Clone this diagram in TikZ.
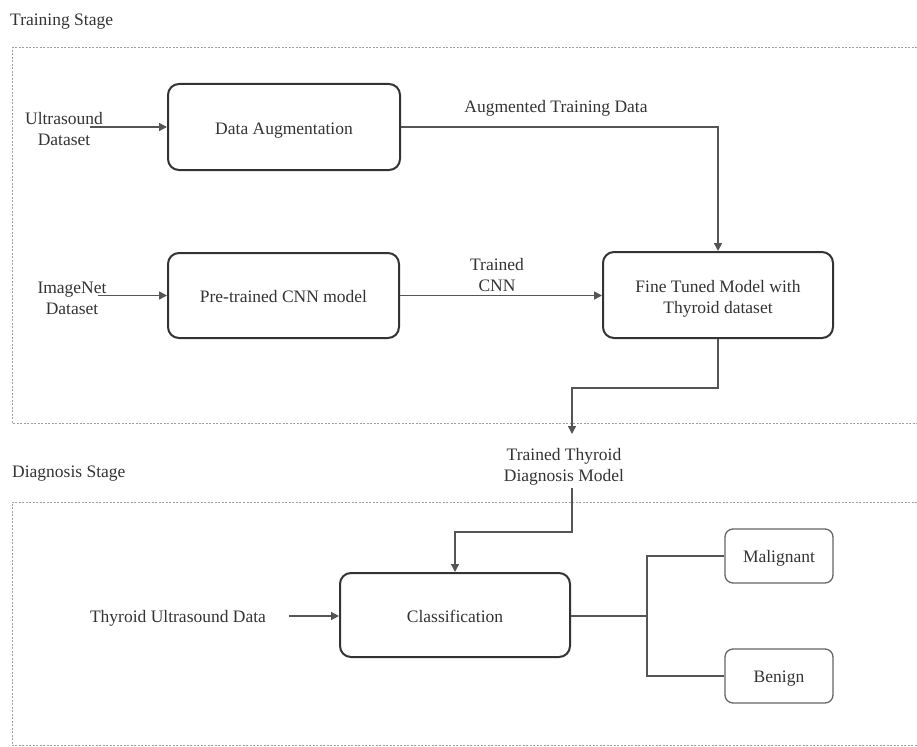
\documentclass[tikz,border=0pt]{standalone}
\usepackage{fontspec}
\setmainfont{Liberation Serif}
\usetikzlibrary{arrows.meta}
\definecolor{txt}{HTML}{333333}
\definecolor{ln}{HTML}{555555}
\definecolor{dsh}{HTML}{A0A0A0}
\newcommand\boxtxt[2][-3bp]{\raisebox{#1}[\height][\depth]{\begin{tabular}{@{}c@{}}#2\end{tabular}}}
\begin{document}
\begin{tikzpicture}[x=1bp,y=-1bp,
  font=\fontsize{17.5bp}{21bp}\selectfont, text=txt,
  mainbox/.style={draw=txt, line width=2bp, rounded corners=11bp, inner sep=0pt},
  smallbox/.style={draw=ln!90, line width=1.3bp, rounded corners=8bp, inner sep=0pt, minimum width=108bp, minimum height=54bp},
  lbl/.style={align=center, inner sep=0pt},
  conn/.style={draw=ln, line width=1.5bp},
  arr/.style={conn, -{Triangle[length=8bp,width=8bp]}},
  stage/.style={draw=dsh, line width=1bp, dash pattern=on 2bp off 1.5bp}
]
\useasboundingbox (0,0) rectangle (917,747);
% stage frames
\draw[stage] (917,48) -- (12,48) -- (12,423) -- (917,423);
\draw[stage] (917,502) -- (12,502) -- (12,745.5) -- (917,745.5);
\node[lbl, anchor=west] (tstage) at (10,22) {Training Stage};
\node[lbl, anchor=west] (dstage) at (12,474) {Diagnosis Stage};

% nodes
\node[mainbox, minimum width=232bp, minimum height=86bp] (da) at (284,127) {\boxtxt{Data Augmentation}};
\node[mainbox, minimum width=231bp, minimum height=85bp] (pre) at (283.5,295.5) {\boxtxt{Pre-trained CNN model}};
\node[mainbox, minimum width=230bp, minimum height=86bp] (ft) at (718,295) {\boxtxt[-4bp]{Fine Tuned Model with\\Thyroid dataset}};
\node[mainbox, minimum width=230bp, minimum height=84bp] (cls) at (455,615) {\boxtxt{Classification}};
\node[smallbox] (mal) at (779,556) {\boxtxt[-2bp]{Malignant}};
\node[smallbox] (ben) at (779,676) {\boxtxt[-2bp]{Benign}};

% text labels
\node[lbl] (us) at (64,129) {Ultrasound\\Dataset};
\node[lbl] (inet) at (72,298) {ImageNet\\Dataset};
\node[lbl] (tu) at (178,618) {Thyroid Ultrasound Data};
\node[lbl] (atd) at (556,108) {Augmented Training Data};
\node[lbl] (tcnn) at (497,275) {Trained\\CNN};
\node[lbl] (ttd) at (564,467) {Trained Thyroid\\Diagnosis Model};

% coordinates
\coordinate (j1) at (572,388);
\coordinate (t1) at (572,434);
\coordinate (s2) at (572,488);
\coordinate (j2) at (572,532);
\coordinate (sp) at (647,616);

% connectors
\draw[arr] ([xshift=-13bp]us.east |- da.west) -- (da.west);
\draw[arr] ([xshift=-9bp]inet.east |- pre.west) -- (pre.west);
\draw[arr] (da.east) -| (ft.north);
\draw[arr] (pre.east) -- (ft.west |- pre.east);
\draw[arr] (ft.south) |- (j1) -- (t1);
\draw[arr] (s2) -- (j2) -| (cls.north);
\draw[arr] ([xshift=23bp]tu.east |- sp) -- (cls.west |- sp);
\draw[conn] (cls.east |- sp) -- (sp);
\draw[conn] (mal.west) -| (sp) |- (ben.west);
\end{tikzpicture}
\end{document}
